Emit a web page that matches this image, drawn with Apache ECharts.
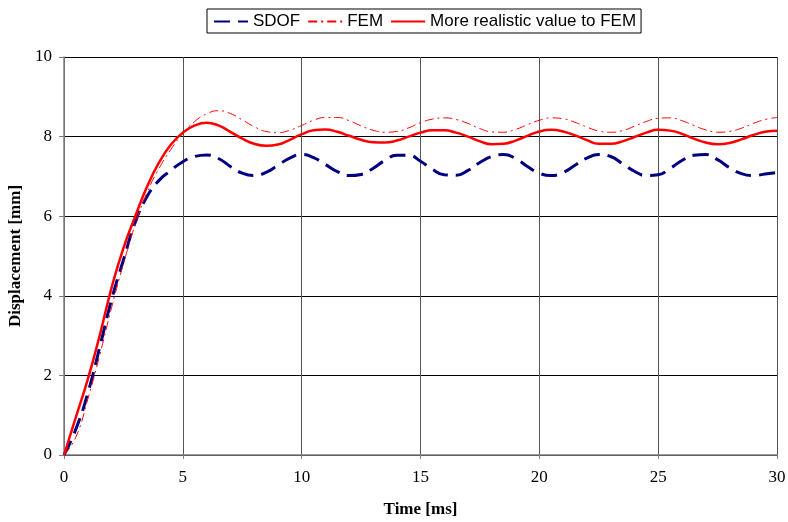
<!DOCTYPE html>
<html><head><meta charset="utf-8">
<script src="https://cdn.jsdelivr.net/npm/echarts@6/dist/echarts.min.js"></script>
<style>html,body{margin:0;padding:0;background:#fff}#c{width:788px;height:522px}</style>
</head><body><div id="c"></div>
<script>
var time = [0,0.5,1,1.5,2,2.5,3,3.5,4,4.5,5,5.5,6,6.5,7,7.5,8,8.5,9,9.5,10,10.5,11,11.5,12,12.5,13,13.5,14,14.5,15,15.5,16,16.5,17,17.5,18,18.5,19,19.5,20,20.5,21,21.5,22,22.5,23,23.5,24,24.5,25,25.5,26,26.5,27,27.5,28,28.5,29,29.5,30];
var sdof = [0,0.65,1.55,2.7,3.9,4.9,5.85,6.5,6.9,7.15,7.37,7.5,7.54,7.45,7.25,7.08,7.02,7.1,7.28,7.46,7.55,7.47,7.3,7.12,7.02,7.05,7.2,7.4,7.53,7.53,7.38,7.18,7.04,7.03,7.15,7.35,7.5,7.55,7.45,7.25,7.08,7.02,7.1,7.28,7.46,7.55,7.5,7.32,7.13,7.02,7.04,7.2,7.4,7.53,7.55,7.42,7.22,7.07,7.02,7.06,7.1];
var fem = [0,0.45,1.4,2.5,3.7,4.8,5.8,6.6,7.2,7.68,8.08,8.38,8.57,8.65,8.58,8.42,8.25,8.13,8.1,8.16,8.28,8.41,8.48,8.48,8.4,8.27,8.16,8.11,8.13,8.22,8.35,8.44,8.47,8.43,8.33,8.2,8.12,8.11,8.18,8.3,8.41,8.47,8.45,8.36,8.24,8.14,8.11,8.15,8.26,8.38,8.46,8.47,8.4,8.28,8.17,8.11,8.13,8.21,8.33,8.43,8.48];
var realistic = [0,0.95,1.9,3.0,4.2,5.2,6.0,6.75,7.35,7.8,8.1,8.28,8.35,8.28,8.12,7.95,7.82,7.77,7.8,7.92,8.06,8.16,8.18,8.12,8.02,7.92,7.86,7.85,7.9,8.0,8.1,8.16,8.16,8.1,8.0,7.88,7.81,7.82,7.9,8.02,8.13,8.17,8.13,8.03,7.91,7.82,7.82,7.88,7.99,8.1,8.17,8.15,8.07,7.95,7.85,7.81,7.84,7.93,8.04,8.12,8.15];
var xTicks = [0,5,10,15,20,25,30];
var yTicks = [0,2,4,6,8,10];

function pairs(ys){ return time.map(function(t,i){ return [t, ys[i]]; }); }
var serif = '"Liberation Serif","Times New Roman",serif';
var sans = '"Liberation Sans",Arial,sans-serif';
var chart = echarts.init(document.getElementById('c'), null, {renderer:'canvas'});
chart.setOption({
  animation:false,
  backgroundColor:'#fff',
  legend:{
    top:9, left:207,
    itemWidth:34, itemHeight:10, itemGap:7,
    borderColor:'#000', borderWidth:1, padding:[4,5,3,6],
    itemStyle:{opacity:0},
    textStyle:{fontFamily:sans, fontSize:17, color:'#000'},
    data:['SDOF','FEM','More realistic value to FEM']
  },
  grid:{left:64, right:11, top:57, bottom:67, containLabel:false, outerBoundsMode:'none'},
  xAxis:{
    type:'value', min:0, max:30, interval:5,
    name:'Time [ms]', nameLocation:'middle', nameGap:46,
    nameTextStyle:{fontFamily:serif, fontWeight:'bold', fontSize:17, color:'#000'},
    axisLine:{lineStyle:{color:'#808080', width:1.5}},
    axisTick:{show:true, length:4, lineStyle:{color:'#808080'}},
    axisLabel:{fontFamily:serif, fontSize:17, color:'#000', margin:14},
    splitLine:{show:true, lineStyle:{color:'#555', width:1}}
  },
  yAxis:{
    type:'value', min:0, max:10, interval:2,
    name:'Displacement [mm]', nameLocation:'middle', nameGap:37, nameRotate:90,
    nameTextStyle:{fontFamily:serif, fontWeight:'bold', fontSize:17, color:'#000'},
    axisLine:{show:true, lineStyle:{color:'#808080', width:1.5}},
    axisTick:{show:true, length:5, lineStyle:{color:'#808080'}},
    axisLabel:{fontFamily:serif, fontSize:17, color:'#000', margin:12},
    splitLine:{show:true, lineStyle:{color:'#000', width:1}}
  },
  series:[
    {name:'SDOF', type:'line', data:pairs(sdof), smooth:true, symbol:'none',
     lineStyle:{color:'#000080', width:3, type:[16,8]}, itemStyle:{color:'#000080'}, z:3},
    {name:'FEM', type:'line', data:pairs(fem), smooth:true, symbol:'none',
     lineStyle:{color:'#ff0000', width:1, type:[9,4,2,4]}, itemStyle:{color:'#ff0000'}, z:4},
    {name:'More realistic value to FEM', type:'line', data:pairs(realistic), smooth:true, symbol:'none',
     lineStyle:{color:'#ff0000', width:2.5}, itemStyle:{color:'#ff0000'}, z:5}
  ]
});
</script></body></html>
